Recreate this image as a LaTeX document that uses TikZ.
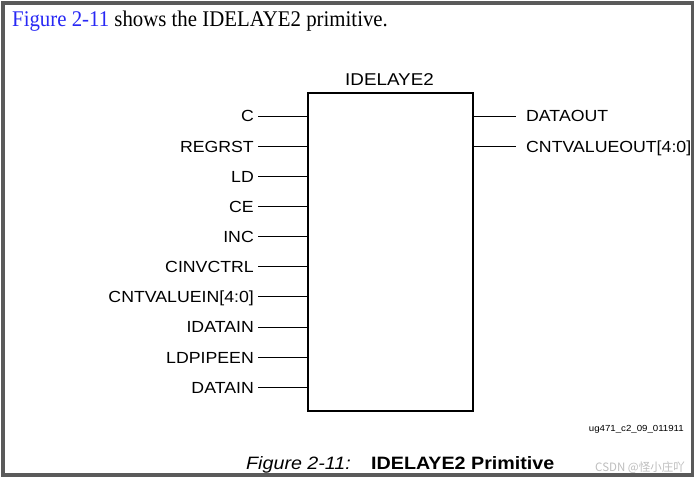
\documentclass[tikz,border=0pt]{standalone}
\usepackage{fontspec}
\setmainfont{Liberation Serif}[FakeStretch=0.93]
\newfontfamily\pinfont{Liberation Sans}[FakeStretch=1.1]
\newfontfamily\cjkfont{Noto Sans CJK SC}
\definecolor{linkblue}{RGB}{40,40,245}
\definecolor{framegray}{RGB}{90,90,90}
\definecolor{wmgray}{RGB}{190,190,190}
\tikzset{
  pinlabel/.style={inner sep=0pt, font=\pinfont\fontsize{16.1}{18}\selectfont},
  pinline/.style={line width=1pt, black},
  chipbox/.style={draw, line width=2pt, inner sep=0pt, minimum width=165pt, minimum height=318pt, anchor=north west},
}
\begin{document}
\begin{tikzpicture}[x=1pt,y=-1pt]
\useasboundingbox (0,0) rectangle (696,479);
\fill[white] (0,0) rectangle (696,479);
\draw[line width=3.5pt, framegray] (3,3) rectangle (692.5,475);

\node[anchor=base west, inner sep=0pt, font=\fontsize{22.4}{26}\selectfont] (intro) at (12,27)
  {\textcolor{linkblue}{Figure 2-11} shows the IDELAYE2 primitive.};

\node[chipbox] (box) at (307,92) {};
\node[anchor=base, inner sep=0pt, font=\pinfont\fontsize{17.1}{20}\selectfont] (title) at (389.5,85) {IDELAYE2};

\foreach \t [count=\i from 0] in {C,REGRST,LD,CE,INC,CINVCTRL,CNTVALUEIN[4:0],IDATAIN,LDPIPEEN,DATAIN}{
  \pgfmathsetmacro{\yy}{116+30.15*\i}
  \node[pinlabel, anchor=base east] (in\i) at (254,\yy+5.9) {\t};
  \coordinate (ine\i) at (258,\yy);
  \draw[pinline] (ine\i) -- (box.west |- ine\i);
}
\foreach \t [count=\i from 0] in {DATAOUT,CNTVALUEOUT[4:0]}{
  \pgfmathsetmacro{\yy}{116+30.15*\i}
  \node[pinlabel, anchor=base west] (out\i) at (526,\yy+5.9) {\t};
  \coordinate (oute\i) at (516,\yy);
  \draw[pinline] (box.east |- oute\i) -- (oute\i);
}

\node[anchor=base east, inner sep=0pt, font=\pinfont\fontsize{8.8}{10}\selectfont] (ref) at (684,431) {ug471\_c2\_09\_011911};

\node[anchor=base west, inner sep=0pt, font=\pinfont\fontsize{17.9}{20}\selectfont] (figlab) at (246,469) {\itshape Figure 2-11:};
\node[anchor=base west, inner sep=0pt, font=\pinfont\fontsize{17.9}{20}\selectfont] (figcap) at (371,469) {\bfseries IDELAYE2 Primitive};

\node[anchor=base east, inner sep=0pt, text=wmgray, font=\cjkfont\fontsize{11.5}{13}\selectfont] (wm) at (685,471) {CSDN @怪小庄吖};
\end{tikzpicture}
\end{document}
